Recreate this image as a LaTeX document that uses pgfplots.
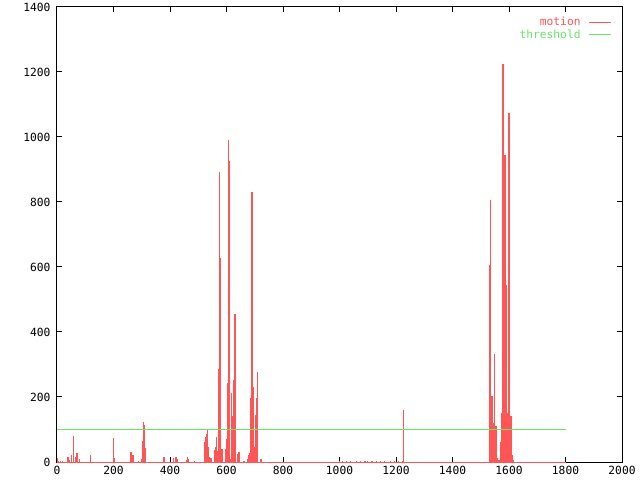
\documentclass[border=0pt]{standalone}
\usepackage{pgfplots}
\pgfplotsset{compat=1.18}
\usepackage{fontspec}
\setmonofont{DejaVu Sans Mono}
\definecolor{motred}{RGB}{255,85,85}
\definecolor{thrgreen}{RGB}{102,230,102}
\begin{document}
\begin{tikzpicture}
\useasboundingbox (-57bp,-18bp) rectangle (583bp,462bp);
\begin{axis}[
  at={(0,0)}, anchor=south west,
  scale only axis, width=565bp, height=455bp,
  xmin=0, xmax=2000, ymin=0, ymax=1400,
  xtick={0,200,...,2000}, ytick={0,200,...,1400},
  tick align=inside, major tick length=5bp,
  axis line style={line width=1bp},
  every tick/.style={black, line width=1bp},
  tick label style={font=\ttfamily\fontsize{11.3}{12}\selectfont},
  /pgf/number format/assume math mode=true,
  /pgf/number format/set thousands separator={},
  xticklabel style={yshift=-1bp},
  yticklabel style={xshift=-3bp},
  legend style={draw=none, fill=none, at={(0.982,0.982)}, anchor=north east,
    font=\ttfamily\fontsize{11.3}{11}\selectfont, inner sep=0pt, row sep=-1.5bp},
  legend cell align=right,
  legend plot pos=right,
]
\addplot[ycomb, motred, line width=1.15bp, no marks,
  legend image code/.code={\path (0bp,0bp); \draw[motred,line width=1bp](6bp,0bp)--(28bp,0bp);}]
coordinates {
(2,13) (6,3) (12,3) (20,3) (39,16) (44,5) (51,22) (59,81) (64,10) (67,14) (70,29) (74,27) (80,8) (119,20)
(200,75) (205,13) (261,32) (265,32) (269,23) (289,3) (300,10) (304,66) (307,122) (310,115) (314,44)
(378,14) (382,14) (413,13) (420,14) (424,14) (427,10) (457,5) (463,14) (466,8) (487,3)
(523,63) (527,78) (530,85) (534,98) (537,45) (541,14) (545,11) (559,37) (562,45) (566,76) (569,35)
(573,286) (576,893) (580,627) (584,40) (587,14) (598,39) (601,72) (605,244) (608,990) (612,925)
(615,10) (619,211) (622,140) (626,252) (630,455) (633,6) (640,26) (644,30) (661,4) (665,4)
(676,8) (679,20) (683,27) (686,196) (690,832) (693,832) (697,230) (700,47) (704,145) (707,196)
(711,276) (722,10)
(1000,4) (1010,3) (1025,4) (1040,3) (1060,4) (1075,3) (1090,4) (1100,3) (1115,4) (1130,4) (1145,3)
(1160,4) (1180,4) (1195,3) (1210,4) (1222,3) (1228,160)
(1532,606) (1536,806) (1540,204) (1543,204) (1547,119) (1550,332) (1554,110) (1558,12) (1562,5)
(1565,5) (1569,60) (1572,150) (1576,945) (1579,1225) (1583,400) (1586,945) (1590,545) (1593,150)
(1597,640) (1600,1075) (1604,100) (1607,140) (1611,20) (1614,5)
};
\addlegendentry{\textcolor{motred}{motion}}
\addplot[thrgreen, line width=1bp, no marks,
  legend image code/.code={\path (0bp,0bp); \draw[thrgreen,line width=1bp](6bp,0bp)--(28bp,0bp);}]
coordinates {(0,100) (1800,100)};
\addlegendentry{\textcolor{thrgreen}{threshold}}
\addplot[motred, line width=1bp, no marks, forget plot] coordinates {(0,0) (1800,0)};
\end{axis}
\end{tikzpicture}
\end{document}
